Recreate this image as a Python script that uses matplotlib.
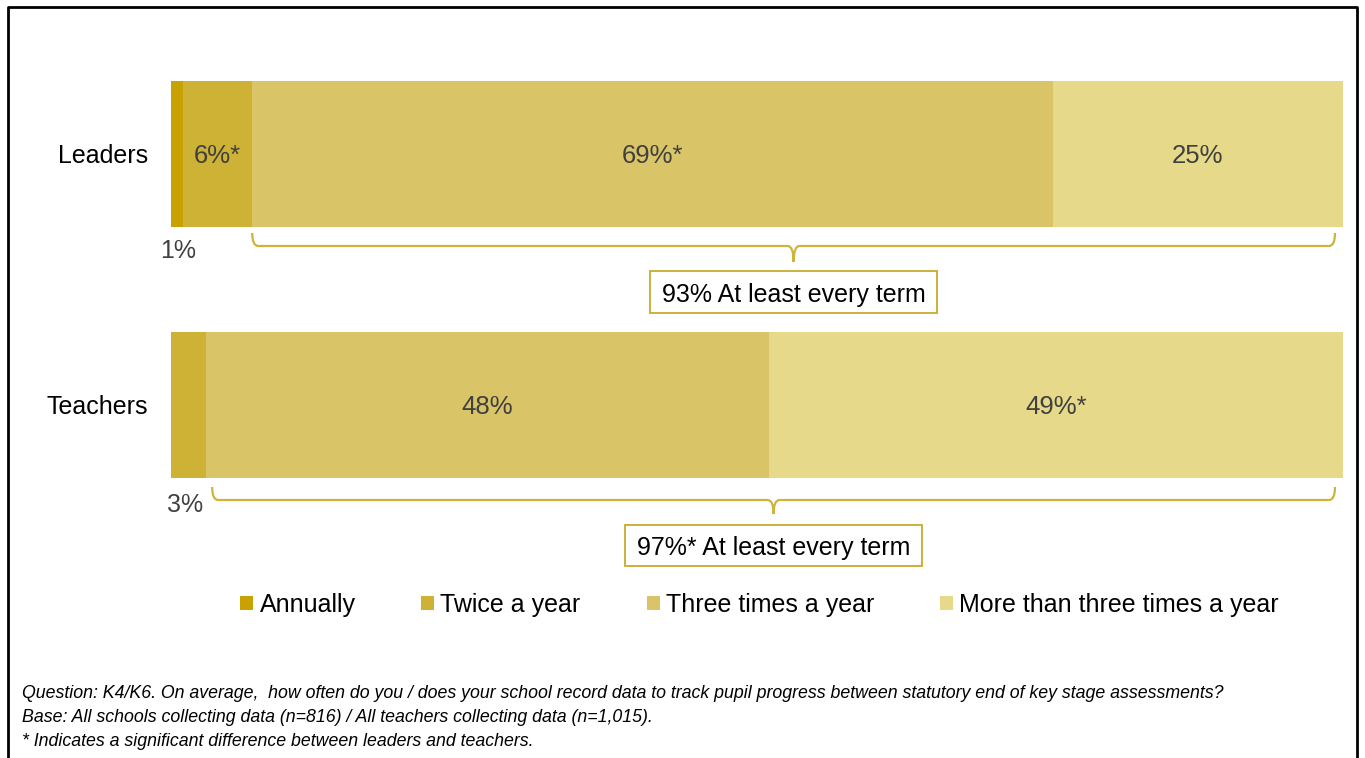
import matplotlib
matplotlib.use("Agg")
import matplotlib.pyplot as plt
from matplotlib.patches import Patch, Rectangle, PathPatch
from matplotlib.path import Path
import numpy as np

plt.rcParams['font.family'] = ['Liberation Sans', 'DejaVu Sans']

# survey data
groups = ["Leaders", "Teachers"]
categories = ["Annually", "Twice a year", "Three times a year", "More than three times a year"]
leaders = [1, 6, 69, 25]
teachers = [0, 3, 48, 49]
leaders_labels = ["", "6%*", "69%*", "25%"]
teachers_labels = ["", "", "48%", "49%*"]
small_labels = ["1%", "3%"]
term_labels = ["93% At least every term", "97%* At least every term"]

colors = ["#C8A200", "#CDB235", "#D9C468", "#E6D98A"]
brace_col = "#CDB43C"
text_grey = "#404040"

W, H = 1365, 758
fig = plt.figure(figsize=(W / 100, H / 100), dpi=100)

# overlay in pixel units for frame, braces and boxes
ov = fig.add_axes([0, 0, 1, 1])
ov.set_xlim(0, W)
ov.set_ylim(H, 0)
ov.axis("off")

# bar area
x0, bw = 171, 1172
ax = fig.add_axes([x0 / W, 0, bw / W, 1])
ax.set_xlim(0, 1)
ax.set_ylim(H, 0)
ax.axis("off")

ycent = [154, 405]
bar_h = 146
rows = [leaders, teachers]
row_labels = [leaders_labels, teachers_labels]

for r, (vals, labs) in enumerate(zip(rows, row_labels)):
    fr = np.array(vals, dtype=float) / sum(vals)
    left = np.concatenate([[0], np.cumsum(fr)[:-1]])
    ax.barh(ycent[r], fr, left=left, height=bar_h, color=colors, edgecolor="none")
    for i in range(4):
        if labs[i]:
            ax.text(left[i] + fr[i] / 2, ycent[r] + 2, labs[i], ha="center", va="center",
                    fontsize=18.5, color=text_grey)
    ax.text(-23 / bw, ycent[r] + 2, groups[r], ha="right", va="center", fontsize=18, color="black")


def brace(xa, xb, ytop, ybot, ytip, xm, rad=6):
    verts = [(xa, ytop), (xa, ybot), (xa + rad, ybot),
             (xm - rad, ybot), (xm, ybot), (xm, ytip),
             (xm, ybot), (xm + rad, ybot),
             (xb - rad, ybot), (xb, ybot), (xb, ytop)]
    codes = [Path.MOVETO, Path.CURVE3, Path.CURVE3,
             Path.LINETO, Path.CURVE3, Path.CURVE3,
             Path.CURVE3, Path.CURVE3,
             Path.LINETO, Path.CURVE3, Path.CURVE3]
    ov.add_patch(PathPatch(Path(verts, codes), facecolor="none", edgecolor=brace_col, lw=1.6))


# brace spans the "three times" and "more than three times" segments
brace_pad = [0, 6]
brace_y = [(233, 246, 262), (487, 500, 514)]
box_y = [(271, 313), (525, 566)]
small_x = [178, 185]
for r, vals in enumerate(rows):
    fr = np.array(vals, dtype=float) / sum(vals)
    xa = x0 + fr[:2].sum() * bw + brace_pad[r]
    xb = x0 + bw - 8
    xm = (xa + xb) / 2
    yt, yb, yp = brace_y[r]
    brace(xa, xb, yt, yb, yp, xm)
    t = ov.text(xm, (box_y[r][0] + box_y[r][1]) / 2 + 3, term_labels[r], ha="center",
                va="center", fontsize=18, color="black")
    fig.canvas.draw()
    bb = t.get_window_extent()
    bx0 = (bb.x0 + bb.x1) / 2 - (bb.width / 2 + 12)
    bwid = bb.width + 24
    ov.add_patch(Rectangle((bx0, box_y[r][0]), bwid, box_y[r][1] - box_y[r][0],
                           facecolor="white", edgecolor="#C8AA2A", lw=1.3, zorder=1))
    ov.text(small_x[r], yt + 18, small_labels[r], ha="center", va="center",
            fontsize=18, color=text_grey)

handles = [Patch(facecolor=c, edgecolor="none") for c in colors]
fig.legend(handles, categories, loc="center", bbox_to_anchor=(759.5 / W, 1 - 605 / H),
           ncol=4, frameon=False, fontsize=18, handlelength=0.52, handleheight=0.52,
           handletextpad=0.25, columnspacing=2.63, borderpad=0)

notes = ["Question: K4/K6. On average,  how often do you / does your school record data to track pupil progress between statutory end of key stage assessments?",
         "Base: All schools collecting data (n=816) / All teachers collecting data (n=1,015).",
         "* Indicates a significant difference between leaders and teachers."]
for i, n in enumerate(notes):
    fig.text(22 / W, 1 - (694 + 24 * i) / H, n, ha="left", va="center", fontsize=12.8,
             style="italic", color="black")

# outer frame
ov.plot([8, 8, 1357, 1357], [H + 5, 7, 7, H + 5], color="black", lw=2, clip_on=False)

fig.savefig("out.png", dpi=100)
